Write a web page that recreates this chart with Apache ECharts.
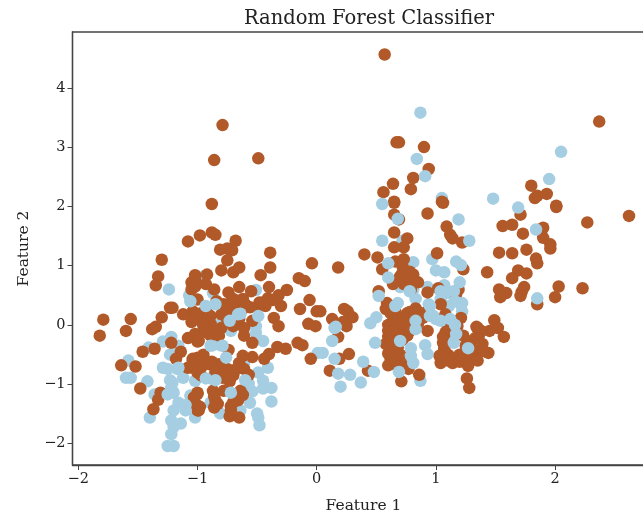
<!DOCTYPE html>
<html>
<head>
<meta charset="utf-8">
<style>html,body{margin:0;padding:0;background:#fff;overflow:hidden}#c{width:643px;height:517px}</style>
<script src="https://cdn.jsdelivr.net/npm/echarts@6/dist/echarts.min.js"></script>
</head>
<body>
<div id="c"></div>
<script>
const chartTitle = 'Random Forest Classifier';
const xName = 'Feature 1';
const yName = 'Feature 2';
const xTicks = [-2, -1, 0, 1, 2];
const yTicks = [-2, -1, 0, 1, 2, 3, 4];
const lightColor = '#a6cee3';
const darkColor = '#b15928';

// class 0 drawn beneath class 1
const class0Under = [
[-1.24,.60],[-1.07,.50],[-1.41,-.38],[-1.29,-.28],[-1.22,-.2],[-1.16,-.35],[-1.23,-.5],[-1.58,-.6],[-1.60,-.89],[-1.56,-.89],
[-1.42,-.95],[-1.36,-1.17],[-1.2,-1.14],[-1.40,-1.56],[-1.29,-.72],[-1.25,-.74],[-1.12,-.89],
[-1.2,-1.44],[-1.22,-1.61],[-1.2,-1.72],[-1.22,-1.84],[-1.25,-2.04],[-1.2,-2.04],
[-1.02,-.94],[-1.02,-1.56],[-1.06,-1.19],[-.51,.59],[-.95,.82],[-.87,.54],
[-.81,.02],[-.95,.12],[-.51,-.02],[-1.04,.44],[-.72,-.1],[-.81,-.34],[-.87,-.34],[-.45,-.27],[-.51,-.13],
[-.41,-.72],[-.49,-.8],[-.45,-.94],[-.38,-1.06],[-.45,-1.07],[-.54,-1.12],[-.56,-1.31],[-.38,-1.29],[-.50,-1.49],[-.49,-1.56],
[-.48,-1.69],[-.89,-.90],[.01,-.47],[-.57,-.99],[-.89,-1.31],[-.81,-1.49],[-.64,-1.44],[-.61,-.65],
[.55,1.42],[.72,1.42],[.81,1.06],[.97,1.11],[1.0,.92],[1.07,.89],[1.07,.67],[.93,.64],[.70,.64],[.81,.60],
[.68,.37],[.83,.44],[.94,.35],[1.04,.44],[.98,.15],[1.11,.54],[.87,-.94],[1.0,.10],
[.96,.18],[1.22,.23],[1.21,.35],[1.11,.32],[1.15,-.23],[.87,3.58],[1.05,2.14]
];

const class1 = [
[-1.08,1.41],[-.98,1.51],[-1.30,1.10],[-1.33,.82],[-1.35,.67],[-1.02,.84],[-1.02,.77],[-1.05,.60],[-1.0,.43],[-1.23,.29],
[-1.21,.29],[-1.30,.13],[-1.12,.18],[-1.04,.23],[-1.01,.18],[-1.79,.09],[-1.56,.10],[-1.60,-.10],[-1.35,-.03],[-1.38,-.07],
[-1.82,-.18],[-1.46,-.45],[-1.36,-.40],[-1.22,-.30],[-1.14,-.45],[-1.08,-.22],[-1.02,-.15],[-1.00,-.28],[-1.64,-.68],[-1.52,-.70],
[-1.48,-1.07],[-1.31,-1.14],[-1.33,-1.26],[-1.37,-1.42],[-1.04,-.57],[-1.08,-.72],[-1.0,-.69],[-1.18,-.57],[-1,-1.14],[-1.03,-1.32],
[-.99,-1.44],[-.88,2.04],[-.88,1.56],[-.85,1.52],[-.68,1.42],[-.81,1.27],[-.75,1.29],[-.71,1.26],[-.39,1.22],[-.75,1.09],
[-.80,.92],[-.70,.89],[-.65,.97],[-.47,.84],[-.39,.97],[-.04,1.04],[-.15,.79],[-.10,.74],[-.92,.85],[-.93,.69],
[-.86,.60],[-.65,.64],[-.74,.55],[-.55,.57],[-.40,.64],[-.25,.59],[-.32,.50],[-.41,.45],[-.06,.42],[-.30,.32],
[-.14,.27],[-.43,.32],[-.56,.30],[-.70,.44],[-.62,.44],[-.76,.27],[-.76,.15],[-.72,.2],[-.84,.40],[-1.02,.2],
[-.89,.15],[-.97,.07],[-.89,.02],[-.54,.07],[-.36,.12],[-.32,-.02],[-.07,.02],[0,.23],[-.01,-.02],[-.70,-.02],
[-.61,-.05],[-.99,-.27],[-.89,-.18],[-.82,-.18],[-.61,-.18],[-.54,-.30],[-.74,-.42],[-.33,-.37],[-.26,-.40],[-.16,-.30],
[-.12,-.34],[-.05,-.57],[-.40,-.49],[-.44,-.57],[-.54,-.54],[-.62,-.52],[-.65,-.64],[-.61,-.74],[-.57,-.84],[-.95,-.50],
[-1.04,-.60],[-.96,-.69],[-.90,-.66],[-.85,-.72],[-.75,-.74],[-.79,-.89],[-.70,-.85],[-.87,-1.11],[-.78,-1.11],[-.64,-1.11],
[-.66,-1.27],[-.85,-1.27],[-.86,-1.39],[-.72,-1.37],[-.73,-1.54],[-.65,-1.56],[-1,-1.16],[-1.02,-1.31],[-1,-1.44],[-1.04,-.72],
[.65,2.06],[.65,1.86],[.69,1.78],[.93,1.88],[1.06,2.06],[1.09,1.66],[.65,1.56],[.76,1.46],[.65,1.31],[.73,1.31],
[.40,1.19],[.51,1.14],[1.01,1.21],[.18,.97],[.55,.94],[.66,1.07],[.73,1.11],[.72,.99],[.70,.82],[.81,.85],
[.77,.77],[.64,.69],[.73,.69],[.79,.60],[.93,.55],[1.02,.62],[.52,.57],[.59,.37],[.58,.27],[.63,.30],
[.76,.2],[.83,.28],[.79,.12],[.86,.15],[1.04,.35],[1.08,.18],[.03,.23],[.23,.27],[.26,.23],[.30,.13],
[.13,.10],[.22,.05],[.25,-.02],[.64,.07],[.70,.07],[.60,0],[.18,-.2],[.27,-.49],[.19,-.57],[.11,-.77],
[.43,-.77],[.71,-.95],[.86,-.84],[.77,-.74],[.60,-.2],[.58,-.32],[.69,-.05],[.60,-.1],[.76,-.18],[.64,-.44],
[.62,-.57],[.72,-.6],[.66,-.65],[.93,-.1],[1.08,-.13],[1.06,-.30],[1.23,-.18],[1.07,-.44],[1.04,-.64],[1.14,-.64],
[1.27,-.55],[1.35,-.05],[1.33,-.22],[1.27,-.69],[1.26,-.9],[1.28,-1.06],[1.35,-.44],[1.23,-.49],[1.12,1.52],[1.14,1.46],
[1.22,1.39],[1.56,1.67],[1.64,1.69],[1.73,1.54],[1.90,1.64],[1.90,1.47],[1.96,1.36],[1.96,1.29],[1.53,1.22],[1.64,1.21],
[1.76,1.27],[1.84,1.12],[1.85,1.04],[1.43,.89],[1.69,.92],[1.76,.87],[1.64,.79],[2.03,.65],[2.23,.62],[1.53,.60],
[1.59,.54],[1.54,.47],[1.74,.64],[1.72,.56],[1.71,.49],[2.0,.47],[1.85,.35],[1.71,1.86],[2.01,1.99],[2.27,1.73],
[2.62,1.84],[1.23,.94],[1.19,.60],[1.17,.52],[1.49,.08],[1.52,-.05],[1.45,-.10],[1.57,-.20],[1.34,-.03],[1.36,-.18],
[1.39,-.32],[1.44,-.47],[1.40,-.44],[1.33,-.57],[1.22,-.55],[1.07,-.39],[1.21,.12],[1.18,-.02],[.57,4.56],[.69,3.08],
[.67,3.08],[.90,3.0],[.94,2.63],[.81,2.48],[.64,2.38],[.56,2.24],[.79,2.29],[.65,2.08],[1.05,2.08],[1.80,2.35],
[1.93,2.21],[1.85,2.18],[1.83,2.14],[2.01,2.01],[2.37,3.43],[-.79,3.37],[-.86,2.78],[-.49,2.81],
[.62,-.12],[.68,-.15],[.72,-.25],[.80,-.05],[.85,.02],[.72,.02],[.78,-.1],[.63,-.28],[.68,-.38],[.6,-.48],
[.7,-.5],[.6,-.68],[.68,-.7],[.76,-.55],[1.03,-.52],[1.1,-.5],[1.15,-.55],[1.2,-.62],[1.1,-.6],[1.25,-.35],
[1.3,-.4],[1.28,-.28],[1.38,-.1],[1.3,-.55],[1.06,-.2],[1.1,-.05],[1.35,-.6],[1.2,-.5],[.72,.88],[.78,.9],
[.75,.7],[.85,.72],[.68,.76],[.78,.22],[.85,.22],[.89,.12],[.74,.12],[.9,.2],[.82,.1],[.6,.3],
[.62,.2],[.66,.22],[-1.02,.12],[-.97,.2],[-.92,.2],[-1.05,.05],[-.95,-.02],[-.9,-.08],[-.78,.35],[-.72,.38],
[-.68,.3],[-.63,.25],[-.7,.12],[-.65,.1],[-.75,.05],[-.8,.18],[-.6,.35],[-.5,.3],[-.48,.38],[-.37,.42],
[-.45,.38],[-.88,-.62],[-.82,-.66],[-.77,-.8],[-.72,-.78],[-.68,-.75],[-.73,-.95],[-.85,-.8],[-1.0,-.55],[-1,-.8],
[-.97,-.85],[-1.05,.72],[-1.02,.65],[-.93,-.12],[-.85,-.1],[-.8,-.05],[-.86,-1.2],[-.83,-1.33],[-.68,-1.2],[-.7,-1.3],
[-.72,-1.45],[-.62,-1.18],[-1.03,-1.22],[-.98,-1.38]
];

// class 0 drawn above class 1
const class0Over = [
[-.72,-1.14],[.55,2.04],[.68,1.79],[.60,1.04],[.60,.80],[.52,.49],[.50,.13],[.45,.03],[.16,-.03],[.15,-.05],
[.13,-.27],[.05,-.47],[.49,-.30],[.15,-.57],[.39,-.62],[.48,-.79],[.18,-.82],[.28,-.84],[.20,-1.04],[.37,-.97],
[.69,-.79],[.81,-.64],[.79,-.52],[.79,-.39],[.91,-.34],[.93,-.49],[1.17,-.15],[1.15,-.30],[1.27,-.39],[1.19,1.78],
[1.28,1.42],[1.69,1.98],[1.84,1.61],[1.17,1.07],[1.21,1.01],[1.20,.72],[1.15,.57],[1.85,.45],[1.22,.37],[1.12,.10],
[.84,2.80],[.91,2.51],[1.48,2.13],[1.95,2.46],[2.05,2.92],
[-1.25,-1.17],[-1.22,-1.06],[-1.21,-.97],[-1.17,-.74],[-1.16,-1.31],[-1.14,-1.66],[-1.1,-1.44],[-.85,.35],[-.93,.32],[-.49,.15],[-.66,.18],
[-1.06,.4],[-.73,.07],[-.64,.19],[-.85,-.93],[-.6,-.93],[-1.16,-.72],[-1.23,-.93],[-1.1,-1.35],[-.89,-.35],[-.79,-.35],
[-.76,-.55],[-.93,-.9],[.78,.57],[1.04,.57],[.95,.32],[.66,.32],[1.16,.4],[1.04,.07],[.95,.15],[1.16,0],
[.83,.07],[.83,-.07],[.7,-.27]
];

const scatter = (data, color) => ({
  type: 'scatter', data, symbolSize: 12.5, itemStyle: { color, opacity: 1 },
  animation: false, silent: true
});
const tickFont = { fontFamily: 'DejaVu Serif', fontSize: 14.5, color: '#222' };
const nameFont = { fontFamily: 'DejaVu Serif', fontSize: 15.5, color: '#222' };

const chart = echarts.init(document.getElementById('c'), null, { renderer: 'canvas' });
chart.setOption({
  animation: false,
  backgroundColor: '#fff',
  title: {
    text: chartTitle, left: 364, top: 4, textAlign: 'center',
    textStyle: { fontFamily: 'DejaVu Serif', fontSize: 19.5, fontWeight: 'normal', color: '#222' }
  },
  grid: { left: 72.5, top: 32, width: 582, height: 433, outerBoundsMode: 'none', show: true, borderColor: '#444', borderWidth: 1.3, backgroundColor: '#fff' },
  xAxis: {
    type: 'value', min: (72.5 - 316.7) / 119.2, max: (654.5 - 316.7) / 119.2,
    name: xName, nameLocation: 'middle', nameGap: 33, nameTextStyle: nameFont,
    splitLine: { show: false },
    axisLine: { show: true, onZero: false, lineStyle: { color: '#444', width: 1.3 } },
    axisTick: { show: true, length: 5, customValues: xTicks, lineStyle: { color: '#444', width: 1 } },
    axisLabel: { ...tickFont, margin: 7, customValues: xTicks, formatter: v => String(v).replace('-', '\u2212') }
  },
  yAxis: {
    type: 'value', min: -2.36, max: 4.94,
    name: yName, nameLocation: 'middle', nameGap: 41, nameRotate: 90, nameTextStyle: nameFont,
    splitLine: { show: false },
    axisLine: { show: true, onZero: false, lineStyle: { color: '#444', width: 1.3 } },
    axisTick: { show: true, length: 5, customValues: yTicks, lineStyle: { color: '#444', width: 1 } },
    axisLabel: { ...tickFont, margin: 7, customValues: yTicks, formatter: v => String(v).replace('-', '\u2212') }
  },
  series: [
    scatter(class0Under, lightColor),
    scatter(class1, darkColor),
    scatter(class0Over, lightColor)
  ]
});
</script>
</body>
</html>
